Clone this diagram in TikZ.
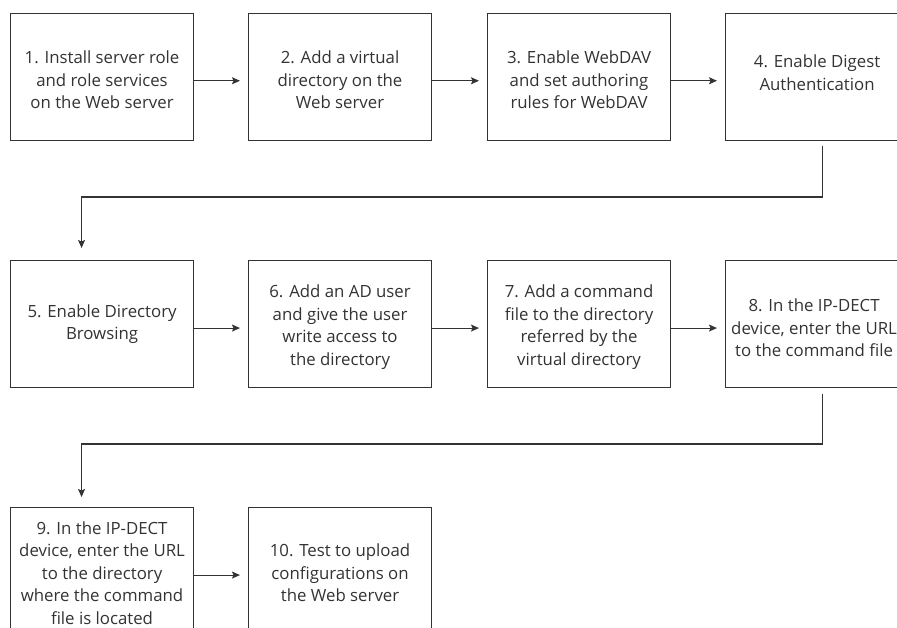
\documentclass[tikz,border=0pt]{standalone}
\usepackage{fontspec}
\setmainfont{Open Sans}
\usetikzlibrary{arrows.meta,calc}
\definecolor{ink}{HTML}{333333}
\tikzset{
  box/.style={draw=ink, line width=1.1pt, minimum width=183pt, minimum height=127pt,
    inner sep=0pt, anchor=north west},
  txt/.style={inner sep=0pt, align=center, text=ink, font=\fontsize{16.8}{22.5}\selectfont},
  arr/.style={draw=ink, line width=1.1pt, -{Stealth[length=8pt,width=7pt,inset=1.5pt]}}
}
\begin{document}
\begin{tikzpicture}[x=1pt,y=-1pt]
\useasboundingbox (0,0) rectangle (897,627);
\clip (0,0) rectangle (897,627);
\fill[white] (0,0) rectangle (897,627);
% boxes
\node[box] (b1) at (10,12.7) {};
\node[box] (b2) at (248,12.7) {};
\node[box] (b3) at (487,12.7) {};
\node[box] (b4) at (725,12.7) {};
\node[box] (b5) at (10,260) {};
\node[box] (b6) at (248,260) {};
\node[box] (b7) at (487,260) {};
\node[box] (b8) at (725,260) {};
\node[box] (b9) at (10,507) {};
\node[box] (b10) at (248,507) {};
% texts
\node[txt] (t1) at ($(b1.center)+(0,3)$) {1. Install server role\\and role services\\on the Web server};
\node[txt] (t2) at ($(b2.center)+(0,3)$) {2. Add a virtual\\directory on the\\Web server};
\node[txt] (t3) at ($(b3.center)+(0,3)$) {3. Enable WebDAV\\and set authoring\\rules for WebDAV};
\node[txt, anchor=north] (t4) at ($(b4.north)+(0,42)$) {4. Enable Digest\\Authentication};
\node[txt] (t5) at ($(b5.center)+(0,0)$) {5. Enable Directory\\Browsing};
\node[txt] (t6) at ($(b6.center)+(0,3)$) {6. Add an AD user\\and give the user\\write access to\\the directory};
\node[txt] (t7) at ($(b7.center)+(0,3)$) {7. Add a command\\file to the directory\\referred by the\\virtual directory};
\node[txt] (t8) at ($(b8.center)+(-3,4)$) {8. In the IP-DECT\\device, enter the URL\\to the command file};
\node[txt] (t9) at ($(b9.center)+(0,2)$) {9. In the IP-DECT\\device, enter the URL\\to the directory\\where the command\\file is located};
\node[txt] (t10) at ($(b10.center)+(0,2)$) {10. Test to upload\\configurations on\\the Web server};
% horizontal arrows
\foreach \a/\b in {b1/b2,b2/b3,b3/b4,b5/b6,b6/b7,b7/b8,b9/b10}{
  \draw[arr] ([yshift=-4pt]\a.east) -- ([yshift=-4pt,xshift=-8pt]\b.west);
}
% wrap-around connectors
\draw[arr] ($(b4.south)+(5.5,5)$) |- ($(b5.north)+(-20.5,-63)$) -- ($(b5.north)+(-20.5,-12)$);
\draw[arr] ($(b8.south)+(5.5,6)$) |- ($(b9.north)+(-20.5,-63)$) -- ($(b9.north)+(-20.5,-10)$);
\end{tikzpicture}
\end{document}
